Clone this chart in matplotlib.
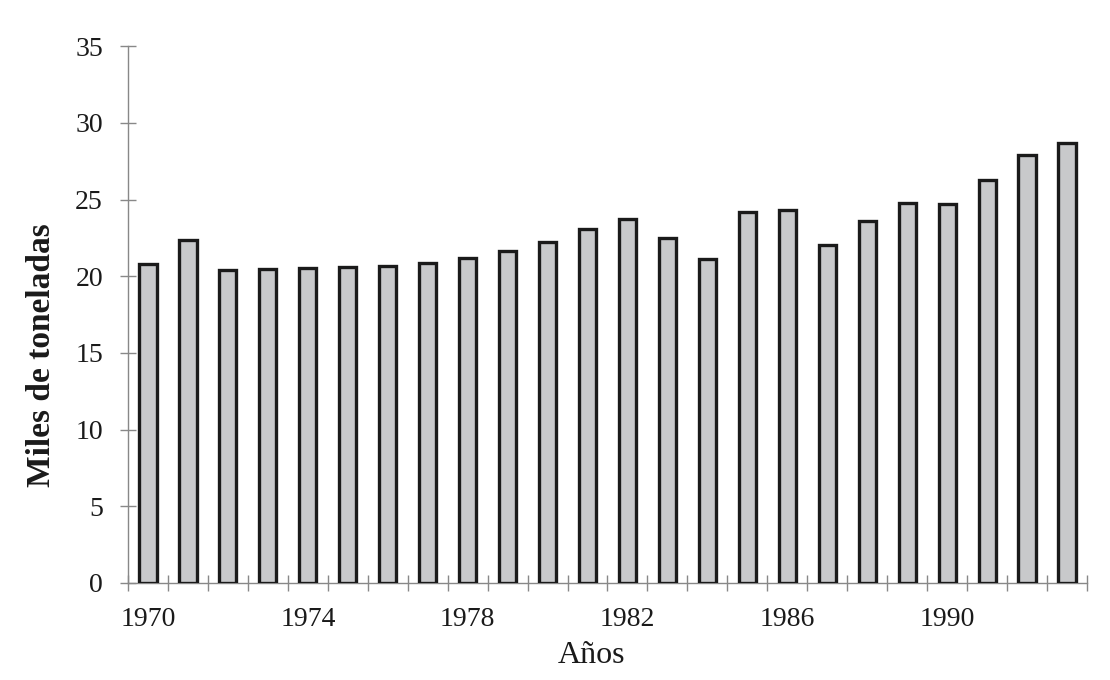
import matplotlib
matplotlib.use("Agg")
import matplotlib.pyplot as plt
import numpy as np

years = list(range(1970, 1994))
values = [20.78, 22.35, 20.39, 20.46, 20.52, 20.59, 20.65, 20.85, 21.18, 21.63,
          22.22, 23.07, 23.75, 22.48, 21.11, 24.16, 24.31, 22.07, 23.61, 24.79,
          24.71, 26.25, 27.89, 28.67]
tick_years = [1970, 1974, 1978, 1982, 1986, 1990]
yticks = [0, 5, 10, 15, 20, 25, 30, 35]

plt.rcParams['font.family'] = ['Liberation Serif', 'DejaVu Serif']

fig = plt.figure(figsize=(11.1, 6.8), dpi=100)
ax = fig.add_axes([128/1110, 1-582.9/680, (1087-128)/1110, (582.9-46.3)/680])

x = np.arange(len(years))
ax.bar(x, values, width=0.43, color='#c8c9cb', edgecolor='#1a1a1a', linewidth=2.4, zorder=3)

ax.set_xlim(-0.5, len(years) - 0.5)
ax.set_ylim(0, 35)
ax.set_yticks(yticks)
ax.set_yticklabels([str(v) for v in yticks], fontsize=20)

major = [years.index(y) for y in tick_years]
ax.set_xticks(major)
ax.set_xticklabels([str(y) for y in tick_years], fontsize=20)
ax.set_xticks(np.arange(-0.5, len(years)), minor=True)
ax.tick_params(axis='x', which='major', length=0, pad=17, colors='#1a1a1a')
ax.tick_params(axis='x', which='minor', direction='inout', length=12, width=1, color='#888888')
ax.tick_params(axis='y', which='major', direction='inout', length=12, width=1, color='#888888', pad=12, labelcolor='#1a1a1a')

for s in ['top', 'right']:
    ax.spines[s].set_visible(False)
for s in ['left', 'bottom']:
    ax.spines[s].set_color('#888888')
    ax.spines[s].set_linewidth(1)

fig.text(591/1110, 1-663/680, 'Años', fontsize=23, ha='center', va='baseline', color='#1a1a1a')
fig.text(42/1110, 1-355/680, 'Miles de toneladas', rotation=90, fontsize=24,
         fontweight='bold', ha='center', va='center', color='#1a1a1a')

fig.savefig('out.png', dpi=100)
